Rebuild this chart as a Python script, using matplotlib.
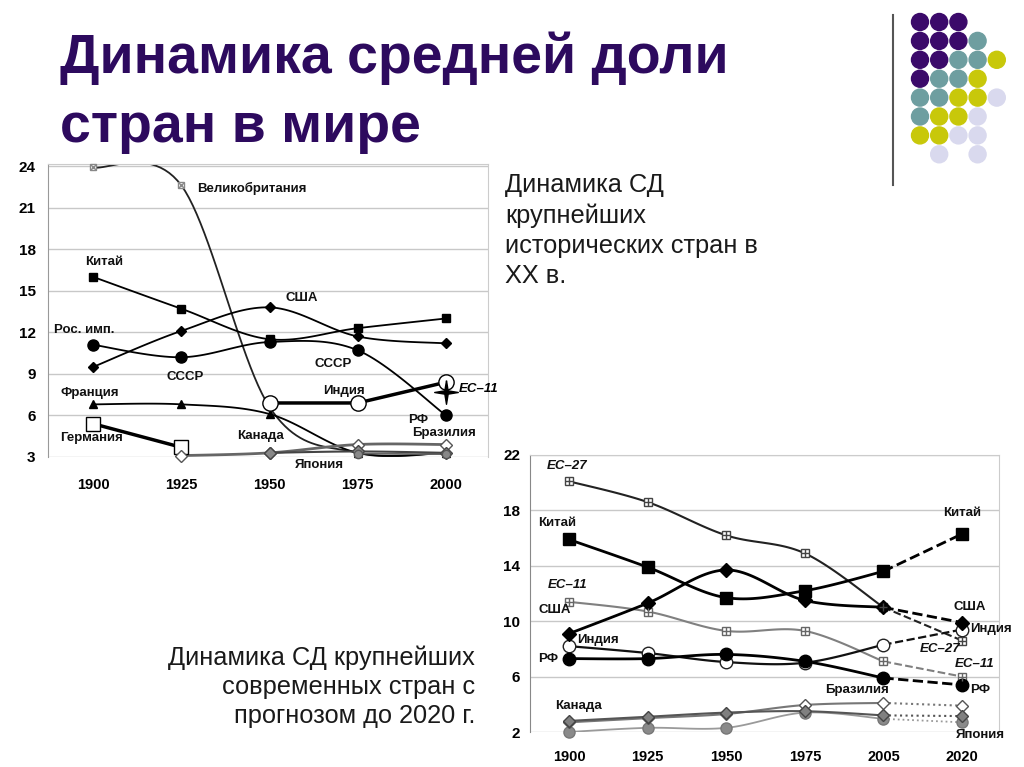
import numpy as np
import matplotlib
matplotlib.use('Agg')
import matplotlib.pyplot as plt
from matplotlib.patches import Ellipse
from matplotlib.lines import Line2D

plt.rcParams['font.family'] = ['Liberation Sans', 'DejaVu Sans']

# ---- chart 1: XX century ----
years1 = [1900, 1925, 1950, 1975, 2000]
gb1 = [23.9, 22.6, 6.6, 3.3, 3.3]
china1 = [16.0, 13.7, 11.5, 12.3, 13.0]
usa1 = [9.5, 12.1, 13.8, 11.7, 11.2]
russia1 = [11.1, 10.2, 11.3, 10.7, 6.0]
france1 = [6.8, 6.8, 6.1, 3.3, 3.3]
germany1 = [5.4, 3.7, np.nan, np.nan, np.nan]
india1 = [np.nan, np.nan, 6.9, 6.9, 8.4]
canada1 = [np.nan, np.nan, 3.3, 3.4, 3.3]
brazil1 = [np.nan, 3.1, 3.3, 3.9, 3.9]
japan1 = [np.nan, np.nan, np.nan, 3.25, 3.2]
eu11_1 = [np.nan, np.nan, np.nan, np.nan, 7.7]
yticks1 = [3, 6, 9, 12, 15, 18, 21, 24]

# ---- chart 2: with forecast to 2020 ----
cats2 = ['1900', '1925', '1950', '1975', '2005', '2020']
eu27_2 = [20.1, 18.6, 16.2, 14.9, 11.0, 8.6]
china2 = [15.9, 13.9, 11.7, 12.2, 13.6, 16.3]
usa2 = [9.1, 11.3, 13.7, 11.5, 11.0, 9.9]
eu11_2 = [11.4, 10.7, 9.3, 9.3, 7.1, 6.0]
india2 = [8.2, 7.7, 7.05, 7.0, 8.3, 9.4]
russia2 = [7.3, 7.3, 7.6, 7.1, 5.9, 5.4]
canada2 = [2.8, 3.1, 3.4, 3.5, 3.2, 3.15]
brazil2 = [2.7, 3.0, 3.3, 3.95, 4.1, 3.9]
japan2 = [2.0, 2.3, 2.3, 3.4, 2.95, 2.7]
yticks2 = [2, 6, 10, 14, 18, 22]

dot_colors = {'P': '#3b0a6a', 'T': '#6e9ea0', 'Y': '#c8c80a', 'L': '#d9d9ee'}
dot_rows = ['PPP', 'PPPT', 'PPTTY', 'PTTY', 'TTYYL', 'TYYL', 'YYLL', '.L.L']

# thin four-pointed star
star4 = [(0, 1), (0.14, 0.14), (1, 0), (0.14, -0.14), (0, -1), (-0.14, -0.14), (-1, 0), (-0.14, 0.14), (0, 1)]


def smooth(xs, ys, n=24):
    # Excel-like smoothed line (Catmull-Rom as cubic Bezier) through the points
    xs = np.asarray(xs, float)
    ys = np.asarray(ys, float)
    out_x, out_y = [], []
    idx = np.where(~np.isnan(ys))[0]
    if len(idx) < 2:
        return np.array([]), np.array([])
    px, py = xs[idx], ys[idx]
    t = np.linspace(0, 1, n)
    for i in range(len(px) - 1):
        i0 = max(i - 1, 0)
        i3 = min(i + 2, len(px) - 1)
        p0 = np.array([px[i0], py[i0]])
        p1 = np.array([px[i], py[i]])
        p2 = np.array([px[i + 1], py[i + 1]])
        p3 = np.array([px[i3], py[i3]])
        c1 = p1 + (p2 - p0) / 6
        c2 = p2 - (p3 - p1) / 6
        b = ((1 - t) ** 3)[:, None] * p1 + (3 * (1 - t) ** 2 * t)[:, None] * c1 \
            + (3 * (1 - t) * t ** 2)[:, None] * c2 + (t ** 3)[:, None] * p2
        out_x.extend(b[:, 0])
        out_y.extend(b[:, 1])
    return np.array(out_x), np.array(out_y)


fig = plt.figure(figsize=(10.24, 7.67), dpi=100)
W, H = 1024, 767


def px_axes(left, top, right, bottom):
    return fig.add_axes([left / W, 1 - bottom / H, (right - left) / W, (bottom - top) / H])


# title
fig.text(60 / W, 1 - 73 / H, 'Динамика средней доли', fontsize=40, fontweight='bold',
         color='#2d0a5e', ha='left', va='baseline')
fig.text(60 / W, 1 - 142 / H, 'стран в мире', fontsize=40, fontweight='bold',
         color='#2d0a5e', ha='left', va='baseline')

# decoration: vertical rule and dots
fig.add_artist(Line2D([893 / W, 893 / W], [1 - 15 / H, 1 - 185 / H], color='#555555', lw=1.5))
for r, row in enumerate(dot_rows):
    for c, ch in enumerate(row):
        if ch == '.':
            continue
        cx = 920 + c * 19.2
        cy = 22 + r * 18.9
        fig.add_artist(Ellipse((cx / W, 1 - cy / H), 17 / W, 17 / H, color=dot_colors[ch],
                               transform=fig.transFigure))

# side texts
fig.text(505 / W, 1 - 173 / H, 'Динамика СД\nкрупнейших\nисторических стран в\nXX в.',
         fontsize=18.3, color='#1a1a1a', ha='left', va='top', linespacing=1.33)
fig.text(475 / W, 1 - 645 / H, 'Динамика СД крупнейших\nсовременных стран с\nпрогнозом до 2020 г.',
         fontsize=18.3, color='#1a1a1a', ha='right', va='top', multialignment='right',
         linespacing=1.28)

# ---------------- chart 1 ----------------
ax1 = px_axes(48, 164, 488, 457)
ax1.set_xlim(1887.2, 2011.9)
ax1.set_ylim(3, 24.15)
ax1.set_yticks(yticks1)
ax1.set_xticks(years1)
ax1.set_yticklabels([str(v) for v in yticks1], fontsize=11, fontweight='bold')
ax1.set_xticklabels([str(v) for v in years1], fontsize=10.5, fontweight='bold')
ax1.tick_params(length=0, axis='y', pad=9)
ax1.tick_params(length=0, axis='x', pad=15)
ax1.grid(axis='y', color='#c8c8c8', lw=1)
ax1.set_axisbelow(True)
for s in ['top', 'right']:
    ax1.spines[s].set_color('#cccccc')
ax1.spines['left'].set_color('#999999')
ax1.spines['bottom'].set_visible(False)


def line1(ax, xs, ys, color='black', lw=1.3, **mk):
    sx, sy = smooth(xs, ys)
    ax.plot(sx, sy, color=color, lw=lw, zorder=2, clip_on=True)
    ax.plot(xs, ys, ls='none', zorder=3, clip_on=False, **mk)


line1(ax1, years1, gb1, color='#222222', lw=1.3, marker='s', ms=5, mfc='white', mec='#888888')
ax1.plot(years1[:2], gb1[:2], ls='none', marker='x', ms=4, mec='#888888', zorder=4, clip_on=False)
line1(ax1, years1, france1, marker='^', ms=6, mfc='black', mec='black')
line1(ax1, years1, china1, marker='s', ms=6, mfc='black', mec='black')
line1(ax1, years1, usa1, marker='D', ms=5, mfc='black', mec='black')
line1(ax1, years1, russia1, marker='o', ms=8, mfc='black', mec='black')
ax1.plot(years1, germany1, color='black', lw=2.5, marker='s', ms=10, mfc='white', mec='black', zorder=3)
line1(ax1, years1, brazil1, color='#666666', lw=2, marker='D', ms=6, mfc='white', mec='#555555')
line1(ax1, years1, canada1, color='#444444', lw=1.5, marker='D', ms=6, mfc='#888888', mec='#444444')
line1(ax1, years1, japan1, color='#666666', lw=1.2, marker='o', ms=6, mfc='#888888', mec='#555555')
ax1.plot(years1, india1, color='black', lw=2.5, marker='o', ms=11, mfc='white', mec='black', zorder=3)
ax1.plot(years1, eu11_1, ls='none', marker=star4, ms=17, color='black', zorder=4)

labels1 = [
    ('Великобритания', 1929.5, 22.4, 'left'),
    ('Китай', 1903.0, 17.1, 'center'),
    ('США', 1959.0, 14.5, 'center'),
    ('Рос. имп.', 1897.5, 12.2, 'center'),
    ('СССР', 1926.0, 8.8, 'center'),
    ('СССР', 1968.0, 9.7, 'center'),
    ('Франция', 1899.0, 7.6, 'center'),
    ('Индия', 1971.0, 7.8, 'center'),
    ('РФ', 1992.0, 5.7, 'center'),
    ('Бразилия', 1999.5, 4.7, 'center'),
    ('Германия', 1899.5, 4.4, 'center'),
    ('Канада', 1947.5, 4.5, 'center'),
    ('Япония', 1964.0, 2.45, 'center'),
]
for txt, x, y, ha in labels1:
    ax1.text(x, y, txt, fontsize=9.5, fontweight='bold', color='#111111',
             ha=ha, va='center', clip_on=False)
ax1.text(2003.6, 7.9, 'ЕС–11', fontsize=9.5, fontweight='bold', style='italic',
         ha='left', va='center', clip_on=False)

# ---------------- chart 2 ----------------
ax2 = px_axes(530, 455, 999, 732)
xs2 = np.arange(len(cats2))
ax2.set_xlim(-0.496, 5.47)
ax2.set_ylim(2, 22)
ax2.set_yticks(yticks2)
ax2.set_xticks(xs2)
ax2.set_yticklabels([str(v) for v in yticks2], fontsize=11, fontweight='bold')
ax2.set_xticklabels(cats2, fontsize=10.5, fontweight='bold')
ax2.tick_params(length=0, axis='y', pad=7)
ax2.tick_params(length=0, axis='x', pad=13)
ax2.grid(axis='y', color='#c8c8c8', lw=1)
ax2.set_axisbelow(True)
for s in ['top', 'right']:
    ax2.spines[s].set_color('#cccccc')
ax2.spines['left'].set_color('#888888')
ax2.spines['bottom'].set_visible(False)


def line2(ax, ys, color='black', lw=1.6, ls_fc='--', **mk):
    sx, sy = smooth(xs2[:5], ys[:5])
    ax.plot(sx, sy, color=color, lw=lw, zorder=2)
    ax.plot(xs2[4:], ys[4:], color=color, lw=lw, ls=ls_fc, zorder=2)
    ax.plot(xs2, ys, ls='none', zorder=3, clip_on=False, **mk)


line2(ax2, japan2, color='#9a9a9a', lw=1.3, ls_fc=':', marker='o', ms=8, mfc='#8a8a8a', mec='#777777')
line2(ax2, brazil2, color='#777777', lw=1.5, ls_fc=':', marker='D', ms=6.5, mfc='white', mec='#555555')
line2(ax2, canada2, color='#555555', lw=1.5, ls_fc=':', marker='D', ms=6.5, mfc='#808080', mec='#444444')
line2(ax2, eu11_2, color='#808080', lw=1.5, marker='s', ms=5.5, mfc='white', mec='#666666')
ax2.plot(xs2, eu11_2, ls='none', marker='+', ms=6, mec='#666666', zorder=4)
line2(ax2, eu27_2, color='#222222', lw=1.5, marker='s', ms=5.5, mfc='white', mec='#444444')
ax2.plot(xs2, eu27_2, ls='none', marker='+', ms=6, mec='#444444', zorder=4)
line2(ax2, india2, color='#111111', lw=1.6, marker='o', ms=9, mfc='white', mec='#222222')
line2(ax2, russia2, color='black', lw=2, marker='o', ms=9, mfc='black', mec='black')
line2(ax2, usa2, color='black', lw=2, marker='D', ms=7, mfc='black', mec='black')
line2(ax2, china2, color='black', lw=2, marker='s', ms=8, mfc='black', mec='black')

labels2 = [
    ('Китай', -0.15, 17.1, 'center', 'normal'),
    ('США', -0.18, 10.8, 'center', 'normal'),
    ('Индия', 0.10, 8.65, 'left', 'normal'),
    ('РФ', -0.27, 7.3, 'center', 'normal'),
    ('Канада', 0.12, 3.9, 'center', 'normal'),
    ('Китай', 5.0, 17.8, 'center', 'normal'),
    ('США', 5.1, 11.0, 'center', 'normal'),
    ('Индия', 5.1, 9.45, 'left', 'normal'),
    ('РФ', 5.23, 5.05, 'center', 'normal'),
    ('Бразилия', 3.67, 5.0, 'center', 'normal'),
    ('Япония', 5.23, 1.8, 'center', 'normal'),
    ('ЕС–27', -0.02, 21.2, 'center', 'italic'),
    ('ЕС–11', -0.02, 12.6, 'center', 'italic'),
    ('ЕС–27', 4.72, 8.0, 'center', 'italic'),
    ('ЕС–11', 5.16, 6.9, 'center', 'italic'),
]
for txt, x, y, ha, st in labels2:
    ax2.text(x, y, txt, fontsize=9.5, fontweight='bold', style=st, color='#111111',
             ha=ha, va='center', clip_on=False)

fig.savefig('out.png', dpi=100)
